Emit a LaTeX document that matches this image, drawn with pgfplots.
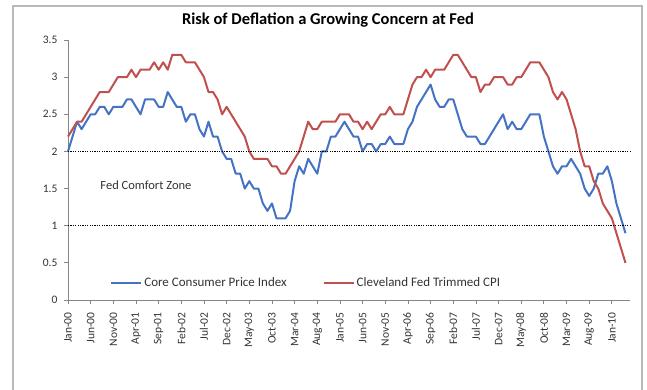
\documentclass[border=0pt]{standalone}
\usepackage{pgfplots}
\pgfplotsset{compat=1.18}
\usepackage{pgfplotstable}
\usepackage{fontspec}
\setmainfont{Carlito}
\definecolor{cpiblue}{HTML}{4472C4}
\definecolor{cpired}{HTML}{C0504D}
\definecolor{axgray}{HTML}{868686}
\pgfplotstableread{
m core trim
0 2.0 2.2
1 2.2 2.3
2 2.4 2.4
3 2.3 2.4
4 2.4 2.5
5 2.5 2.6
6 2.5 2.7
7 2.6 2.8
8 2.6 2.8
9 2.5 2.8
10 2.6 2.9
11 2.6 3.0
12 2.6 3.0
13 2.7 3.0
14 2.7 3.1
15 2.6 3.0
16 2.5 3.1
17 2.7 3.1
18 2.7 3.1
19 2.7 3.2
20 2.6 3.1
21 2.6 3.2
22 2.8 3.1
23 2.7 3.3
24 2.6 3.3
25 2.6 3.3
26 2.4 3.2
27 2.5 3.2
28 2.5 3.2
29 2.3 3.1
30 2.2 3.0
31 2.4 2.8
32 2.2 2.8
33 2.2 2.7
34 2.0 2.5
35 1.9 2.6
36 1.9 2.5
37 1.7 2.4
38 1.7 2.3
39 1.5 2.2
40 1.6 2.0
41 1.5 1.9
42 1.5 1.9
43 1.3 1.9
44 1.2 1.9
45 1.3 1.8
46 1.1 1.8
47 1.1 1.7
48 1.1 1.7
49 1.2 1.8
50 1.6 1.9
51 1.8 2.0
52 1.7 2.2
53 1.9 2.4
54 1.8 2.3
55 1.7 2.3
56 2.0 2.4
57 2.0 2.4
58 2.2 2.4
59 2.2 2.4
60 2.3 2.5
61 2.4 2.5
62 2.3 2.5
63 2.2 2.4
64 2.2 2.4
65 2.0 2.3
66 2.1 2.4
67 2.1 2.3
68 2.0 2.4
69 2.1 2.5
70 2.1 2.5
71 2.2 2.6
72 2.1 2.5
73 2.1 2.5
74 2.1 2.5
75 2.3 2.7
76 2.4 2.9
77 2.6 3.0
78 2.7 3.0
79 2.8 3.1
80 2.9 3.0
81 2.7 3.1
82 2.6 3.1
83 2.6 3.1
84 2.7 3.2
85 2.7 3.3
86 2.5 3.3
87 2.3 3.2
88 2.2 3.1
89 2.2 3.0
90 2.2 3.0
91 2.1 2.8
92 2.1 2.9
93 2.2 2.9
94 2.3 3.0
95 2.4 3.0
96 2.5 3.0
97 2.3 2.9
98 2.4 2.9
99 2.3 3.0
100 2.3 3.0
101 2.4 3.1
102 2.5 3.2
103 2.5 3.2
104 2.5 3.2
105 2.2 3.1
106 2.0 3.0
107 1.8 2.8
108 1.7 2.7
109 1.8 2.8
110 1.8 2.7
111 1.9 2.5
112 1.8 2.3
113 1.7 2.0
114 1.5 1.8
115 1.4 1.8
116 1.5 1.6
117 1.7 1.5
118 1.7 1.3
119 1.8 1.2
120 1.6 1.1
121 1.3 0.9
122 1.1 0.7
123 0.9 0.5
}\datatable
\begin{document}
\begin{tikzpicture}[x=1pt,y=1pt]
\useasboundingbox (0,0) rectangle (647,389);
\draw[gray!55, line width=1.2pt] (13,-2) -- (13,383) -- (642,383) -- (642,-2);
\node[font=\fontsize{16.5}{19}\selectfont\bfseries] at (328,369) {Risk of Deflation a Growing Concern at Fed};
\begin{axis}[
  at={(68pt,89pt)}, anchor=south west,
  scale only axis, width=562pt, height=260pt,
  xmin=0, xmax=124, ymin=0, ymax=3.5,
  axis x line*=bottom, axis y line*=left,
  axis line style={axgray, line width=0.8pt},
  tick style={axgray, line width=0.8pt},
  tick align=outside, major tick length=4pt,
  xtick={0,5,...,120},
  xticklabels={Jan-00,Jun-00,Nov-00,Apr-01,Sep-01,Feb-02,Jul-02,Dec-02,May-03,Oct-03,Mar-04,Aug-04,Jan-05,Jun-05,Nov-05,Apr-06,Sep-06,Feb-07,Jul-07,Dec-07,May-08,Oct-08,Mar-09,Aug-09,Jan-10},
  x tick label style={yshift=-5pt, rotate=90, anchor=east, font=\fontsize{11.5}{13}\selectfont, text=black!80},
  ytick={0,0.5,...,3.5},
  y tick label style={xshift=-3pt, font=\fontsize{11.5}{13}\selectfont, text=black!80},
  /pgf/number format/assume math mode=true,
  legend columns=2,
  legend style={at={(rel axis cs:0.075,0.065)}, anchor=west, draw=none, fill=none,
    font=\fontsize{13}{15}\selectfont, inner sep=0pt, text=black!80,
    /tikz/every even column/.append style={column sep=34pt}},
  legend image code/.code={\draw[#1] (0pt,0pt) -- (30pt,0pt);},
  clip=false,
]
\addplot[cpiblue, line width=2pt, line join=round] table[x=m, y=core] {\datatable};
\addlegendentry{Core Consumer Price Index}
\addplot[cpired, line width=2pt, line join=round] table[x=m, y=trim] {\datatable};
\addlegendentry{Cleveland Fed Trimmed CPI}
\addplot[black, line width=1.1pt, dash pattern=on 1.2pt off 1.2pt, forget plot] coordinates {(0,2) (124,2)};
\addplot[black, line width=1.1pt, dash pattern=on 1.2pt off 1.2pt, forget plot] coordinates {(0,1) (124,1)};
\node[font=\fontsize{12.5}{14}\selectfont, text=black!80] at (axis cs:17.2,1.55) {Fed Comfort Zone};
\end{axis}
\end{tikzpicture}
\end{document}
